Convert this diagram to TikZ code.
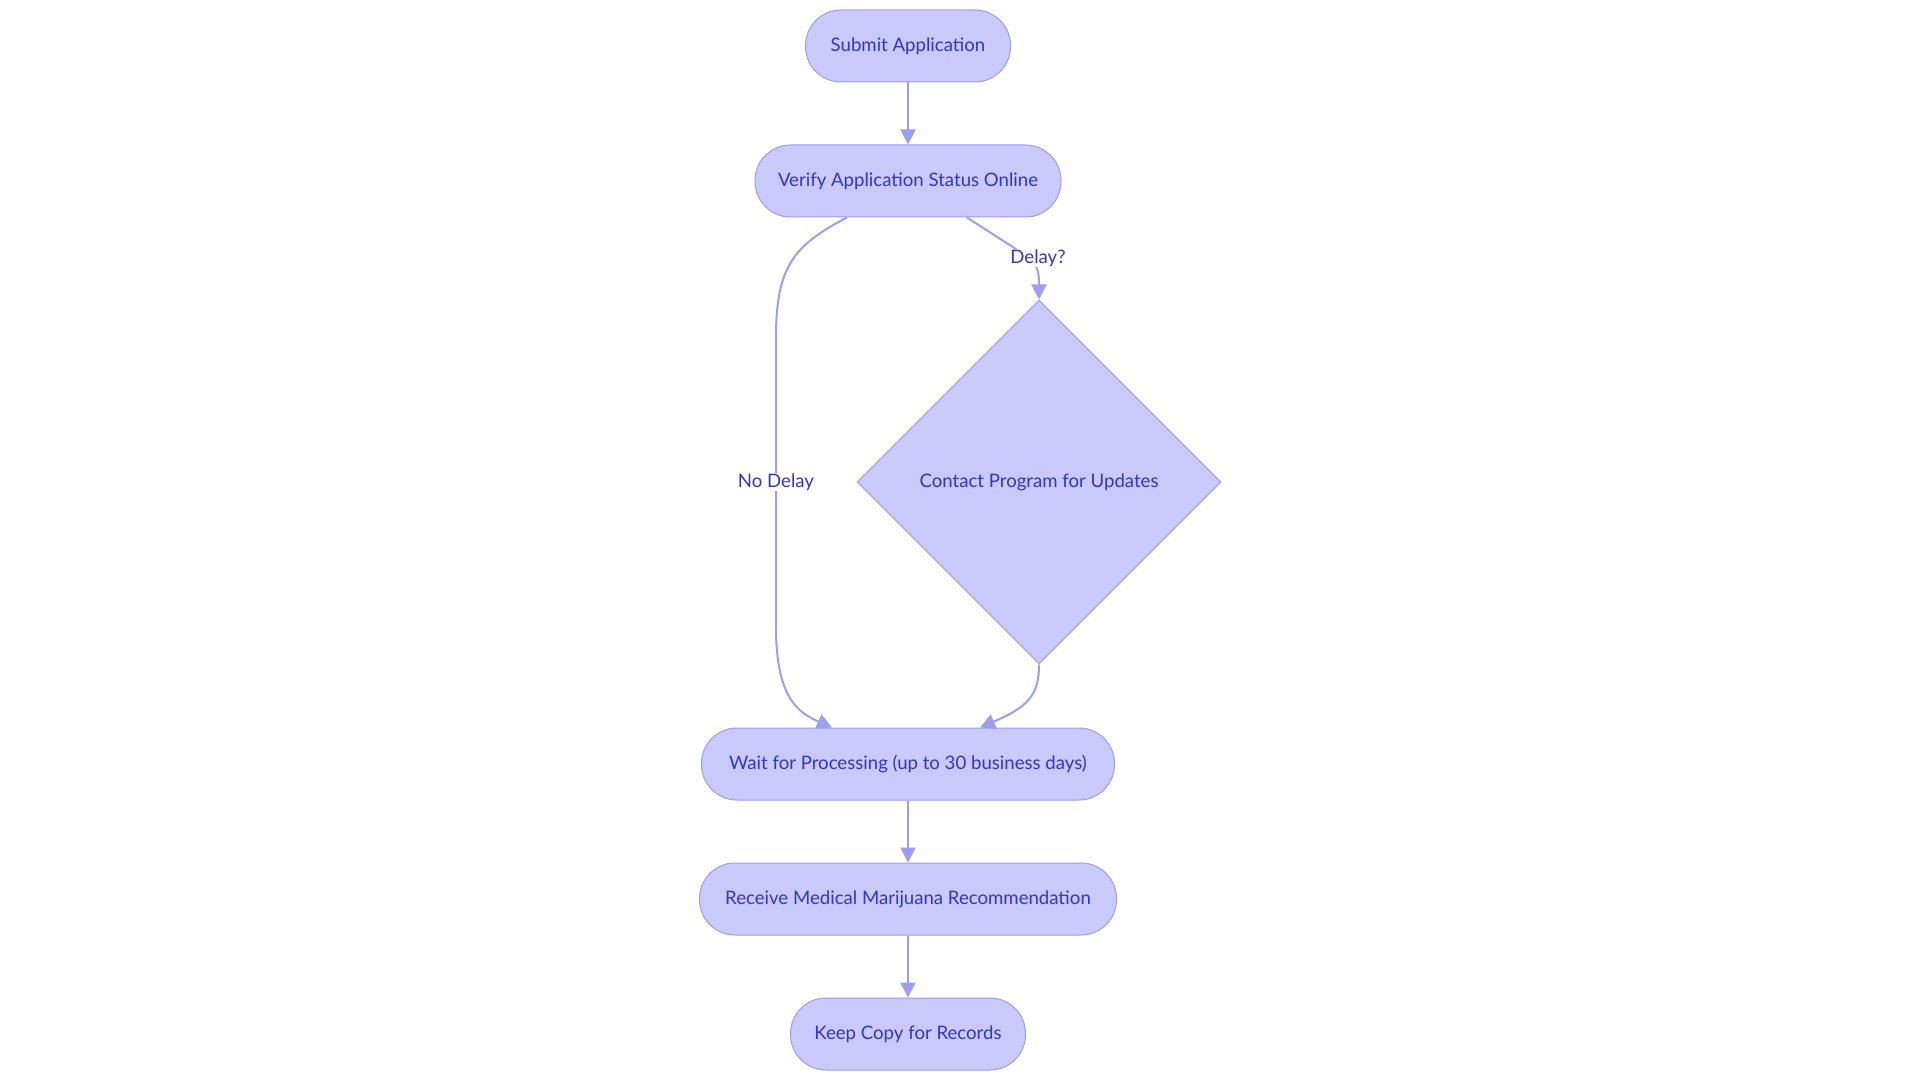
\documentclass[tikz,border=0pt]{standalone}
\usepackage{fontspec}
\setmainfont{Lato}
\usetikzlibrary{arrows.meta,shapes.geometric,calc}
\definecolor{nodefill}{HTML}{C9C9FB}
\definecolor{nodedraw}{HTML}{9D9DF0}
\definecolor{txt}{HTML}{3434C8}
\definecolor{edgec}{HTML}{9E9EF0}
\begin{document}
\begin{tikzpicture}[x=1pt,y=-1pt,
  stadium/.style={draw=nodedraw,fill=nodefill,line width=1pt,rectangle,rounded corners=35.5pt,minimum height=72pt,inner sep=0pt,text=txt,font=\fontsize{18.6}{22}\selectfont},
  decision/.style={draw=nodedraw,fill=nodefill,line width=1pt,diamond,minimum width=364pt,minimum height=364pt,inner sep=0pt,text=txt,font=\fontsize{18.6}{22}\selectfont},
  edge/.style={draw=edgec,line width=2pt,-{Triangle[length=15pt,width=15pt]}},
  elabel/.style={fill=white,text=txt,inner sep=1pt,font=\fontsize{18.6}{22}\selectfont}]
\useasboundingbox[fill=white] (0,0) rectangle (1920,1083);
\node[stadium,minimum width=205pt] (submit) at (908,46) {Submit Application};
\node[stadium,minimum width=306pt] (verify) at (908,181) {Verify Application Status Online};
\node[decision] (contact) at (1039,482) {Contact Program for Updates};
\node[stadium,minimum width=413pt] (wait) at (908,764) {Wait for Processing (up to 30 business days)};
\node[stadium,minimum width=417pt] (receive) at (908,899) {Receive Medical Marijuana Recommendation};
\node[stadium,minimum width=235pt] (keep) at (908,1034) {Keep Copy for Records};
\draw[edge] (submit) -- (verify);
\draw[edge] ($(verify.south)+(-61,0)$) .. controls ($(verify.south)+(-115,28)$) and ($(verify.south)+(-132,50)$) .. ($(verify.south)+(-132,120)$) -- ($(wait.north)+(-132,-100)$) .. controls ($(wait.north)+(-132,-30)$) and ($(wait.north)+(-110,-15)$) .. ($(wait.north)+(-76,0)$);
\node[elabel] (nodelay) at (776,482) {No Delay};
\draw[edge] ($(verify.south)+(59,0)$) -- ($(verify.south)+(104,29)$) .. controls ($(verify.south)+(126,44)$) and (contact.north |- 0,262) .. (contact.north);
\node[elabel] (delay) at (1038,258) {Delay?};
\draw[edge] (contact.south) .. controls ($(contact.south)+(0,30)$) and ($(contact.south)+(-10,42)$) .. ($(wait.north)+(72,0)$);
\draw[edge] (wait) -- (receive);
\draw[edge] (receive) -- (keep);
\end{tikzpicture}
\end{document}
